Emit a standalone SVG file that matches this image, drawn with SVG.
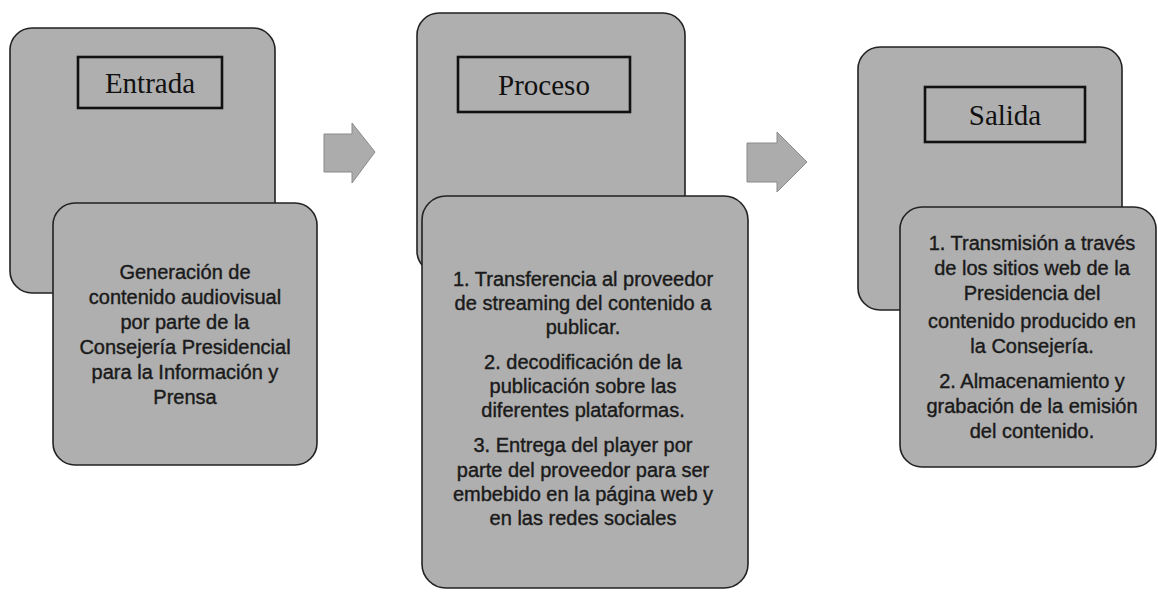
<svg xmlns="http://www.w3.org/2000/svg" width="1158" height="596" viewBox="0 0 1158 596">
<defs>
<style>
.box{fill:#afafaf;stroke:#222;stroke-width:1.6}
.title{fill:none;stroke:#111;stroke-width:2.6}
.tt{font-family:"Liberation Serif","Times New Roman",serif;font-size:29px;fill:#111;text-anchor:middle}
.bt{font-family:"Liberation Sans",Arial,sans-serif;font-size:20px;fill:#1a1a1a;stroke:#1a1a1a;stroke-width:0.4;text-anchor:middle}
.arr{fill:#acacac;stroke:#8a8a8a;stroke-width:1}
</style>
</defs>
<rect width="1158" height="596" fill="#ffffff"/>
<g id="entrada">
<rect class="box" x="10" y="28" width="265" height="265" rx="22"/>
<rect class="title" x="78" y="57" width="144" height="51"/>
<text class="tt" x="150" y="93">Entrada</text>
</g>
<g id="entrada-detalle">
<rect class="box" x="53" y="203" width="264" height="262" rx="22"/>
<text class="bt" x="185" y="279">Generación de</text>
<text class="bt" x="185" y="304">contenido audiovisual</text>
<text class="bt" x="185" y="329">por parte de la</text>
<text class="bt" x="185" y="354">Consejería Presidencial</text>
<text class="bt" x="185" y="379">para la Información y</text>
<text class="bt" x="185" y="404">Prensa</text>
</g>
<g id="proceso">
<rect class="box" x="417" y="13" width="268" height="260" rx="22"/>
<rect class="title" x="458" y="57" width="172" height="55"/>
<text class="tt" x="544" y="95">Proceso</text>
</g>
<g id="proceso-detalle">
<rect class="box" x="422" y="196" width="326" height="392" rx="24"/>
<text class="bt" x="583" y="286">1. Transferencia al proveedor</text>
<text class="bt" x="583" y="310">de streaming del contenido a</text>
<text class="bt" x="583" y="334">publicar.</text>
<text class="bt" x="583" y="369">2. decodificación de la</text>
<text class="bt" x="583" y="393">publicación sobre las</text>
<text class="bt" x="583" y="417">diferentes plataformas.</text>
<text class="bt" x="583" y="452">3. Entrega del player por</text>
<text class="bt" x="583" y="477">parte del proveedor para ser</text>
<text class="bt" x="583" y="501">embebido en la página web y</text>
<text class="bt" x="583" y="525">en las redes sociales</text>
</g>
<g id="salida">
<rect class="box" x="858" y="47" width="264" height="263" rx="22"/>
<rect class="title" x="925" y="87" width="160" height="55"/>
<text class="tt" x="1005" y="125">Salida</text>
</g>
<g id="salida-detalle">
<rect class="box" x="900" y="207" width="256" height="260" rx="22"/>
<text class="bt" x="1032" y="250">1. Transmisión a través</text>
<text class="bt" x="1032" y="275">de los sitios web de la</text>
<text class="bt" x="1032" y="300">Presidencia del</text>
<text class="bt" x="1032" y="328">contenido producido en</text>
<text class="bt" x="1032" y="353">la Consejería.</text>
<text class="bt" x="1032" y="388">2. Almacenamiento y</text>
<text class="bt" x="1032" y="413">grabación de la emisión</text>
<text class="bt" x="1032" y="438">del contenido.</text>
</g>
<g id="connectors">
<polygon class="arr" points="324,134 352,134 352,123 375,152 352,183 352,172 324,172"/>
<polygon class="arr" points="747,143 777,143 777,132 807,162 777,192 777,182 747,182"/>
</g>
</svg>
